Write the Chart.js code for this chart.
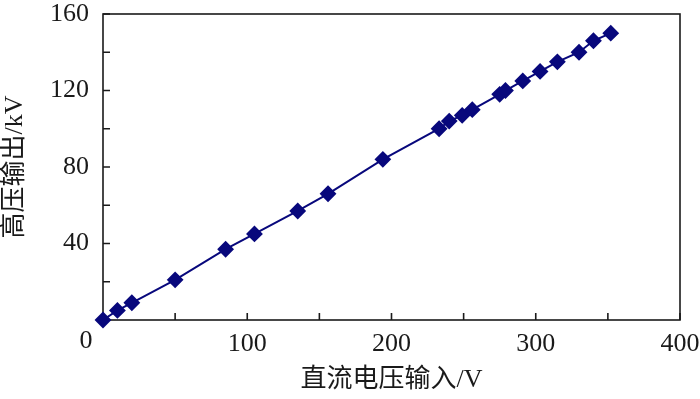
<!DOCTYPE html>
<html>
<head>
<meta charset="utf-8">
<script src="https://cdn.jsdelivr.net/npm/chart.js@4"></script>
<style>
  html, body { margin: 0; padding: 0; background: #fff; }
  #wrap { width: 700px; height: 399px; }
</style>
</head>
<body>
<div id="wrap"><canvas id="hvChart"></canvas></div>
<script>
// DC input (V) vs high-voltage output (kV)
const inputVoltage = [0, 10, 20, 50, 85, 105, 135, 156, 194, 233, 240, 249, 256, 275, 279, 291, 303, 315, 330, 340, 352];
const outputVoltage = [0, 5, 9, 21, 37, 45, 57, 66, 84, 100, 104, 107, 110, 118, 120, 125, 130, 135, 140, 146, 150];

const xTickLabels = [0, 100, 200, 300, 400];
const yTickLabels = [40, 80, 120, 160];
const xMinorStep = 50;
const yMinorStep = 20;

const serif = "'Liberation Serif', 'Times New Roman', 'Noto Sans CJK SC', serif";
const ink = '#1a1a1a';

// frame plus inward tick marks, and the lone "0" at the origin
const framePlugin = {
    id: 'frame',
    beforeDatasetsDraw(chart) {
        const { ctx, chartArea: a, scales: { x, y } } = chart;
        ctx.save();
        ctx.strokeStyle = ink;
        ctx.lineWidth = 1.6;
        ctx.strokeRect(a.left, a.top, a.right - a.left, a.bottom - a.top);

        ctx.beginPath();
        for (let v = x.min; v <= x.max; v += xMinorStep) {
            const px = x.getPixelForValue(v);
            ctx.moveTo(px, a.bottom);
            ctx.lineTo(px, a.bottom - 7);
        }
        for (let v = y.min; v <= y.max; v += yMinorStep) {
            const py = y.getPixelForValue(v);
            ctx.moveTo(a.left, py);
            ctx.lineTo(a.left + 7, py);
        }
        ctx.stroke();

        ctx.fillStyle = ink;
        ctx.font = '26px ' + serif;
        ctx.textAlign = 'center';
        ctx.textBaseline = 'middle';
        ctx.fillText(String(xTickLabels[0]), x.getPixelForValue(0) - 17, a.bottom + 21);
        ctx.restore();
    }
};

const ctx = document.getElementById('hvChart').getContext('2d');
const chart = new Chart(ctx, {
    type: 'scatter',
    data: {
        datasets: [{
            label: '高压输出',
            data: inputVoltage.map((v, i) => ({ x: v, y: outputVoltage[i] })),
            showLine: true,
            borderColor: '#08087c',
            backgroundColor: '#08087c',
            borderWidth: 2,
            pointStyle: 'rectRot',
            pointRadius: 7,
            pointHoverRadius: 7,
            clip: false,
        }]
    },
    options: {
        responsive: true,
        maintainAspectRatio: false,
        animation: false,
        layout: { padding: { top: 14, right: 20, left: 0, bottom: 0 } },
        plugins: {
            legend: { display: false },
            tooltip: { enabled: false },
        },
        scales: {
            x: {
                type: 'linear',
                min: 0,
                max: 400,
                grid: { display: false },
                border: { display: false },
                afterFit: (s) => {
                    s.height = 79;
                    s.paddingLeft = 0;
                    s.paddingRight = 0;
                },
                ticks: {
                    stepSize: 100,
                    autoSkip: false,
                    maxRotation: 0,
                    padding: 1,
                    color: ink,
                    font: { family: serif, size: 26 },
                    callback: (v) => (xTickLabels.includes(v) && v !== 0 ? v : ''),
                },
                title: {
                    display: true,
                    text: '直流电压输入/V',
                    color: ink,
                    font: { family: serif, size: 26 },
                    padding: { top: 0, bottom: 3 },
                },
            },
            y: {
                type: 'linear',
                min: 0,
                max: 160,
                grid: { display: false },
                border: { display: false },
                afterFit: (s) => {
                    s.width = 103;
                    s.paddingTop = 0;
                    s.paddingBottom = 0;
                },
                ticks: {
                    stepSize: 40,
                    padding: 6,
                    color: ink,
                    font: { family: serif, size: 26 },
                    callback: (v) => (yTickLabels.includes(v) ? v : ''),
                },
                title: {
                    display: true,
                    text: '高压输出/kV',
                    color: ink,
                    font: { family: serif, size: 26 },
                    padding: { top: 0, bottom: 0 },
                },
            },
        },
    },
    plugins: [framePlugin],
});
</script>
</body>
</html>
